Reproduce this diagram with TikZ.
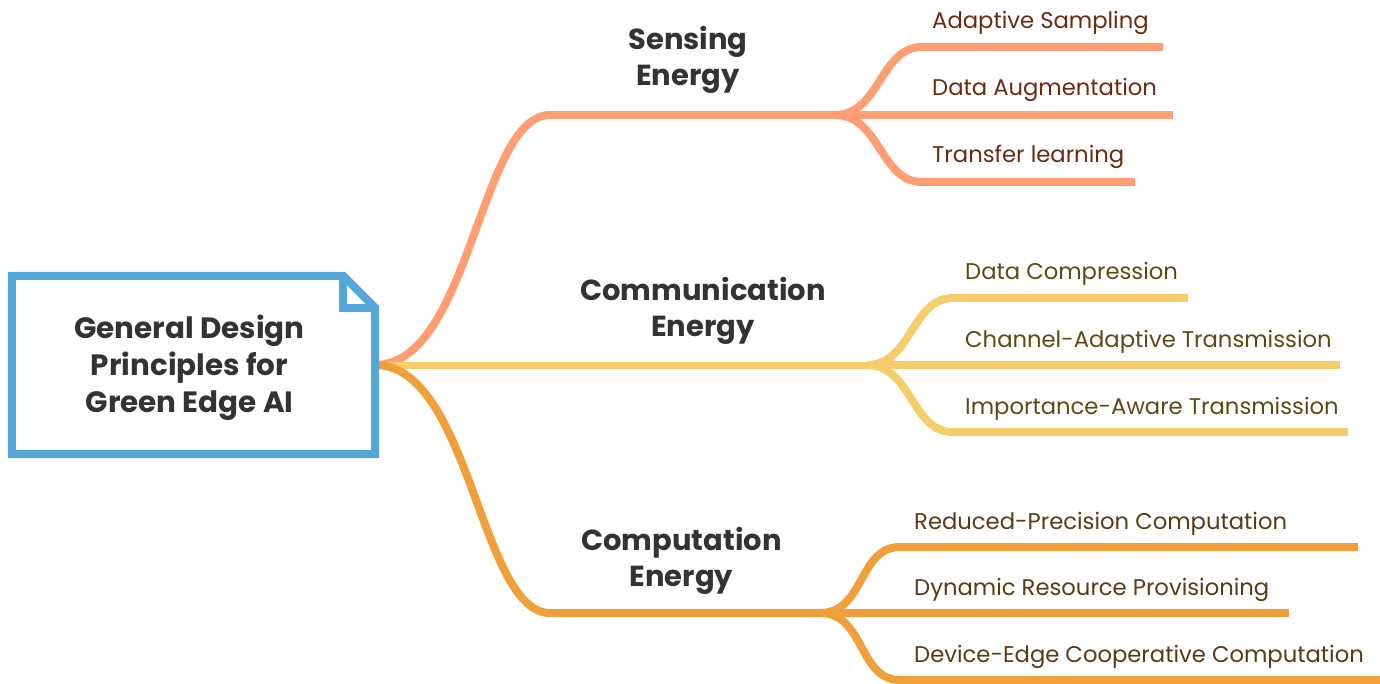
\documentclass[tikz,border=0pt]{standalone}
\usepackage{fontspec}
\setmainfont{Poppins}
\usetikzlibrary{positioning,calc}

\definecolor{rootblue}{HTML}{55A7D8}
\definecolor{senseline}{HTML}{FF9D73}
\definecolor{commline}{HTML}{F5CD6B}
\definecolor{compline}{HTML}{F0A03A}
\definecolor{sensetext}{HTML}{6B2A10}
\definecolor{commtext}{HTML}{604812}
\definecolor{comptext}{HTML}{5A3A14}
\definecolor{headtext}{HTML}{333333}

\tikzset{
    rootbox/.style={minimum width=363pt, minimum height=178pt, inner sep=0pt, align=center, text=headtext, font=\fontsize{29.4}{37}\selectfont\bfseries},
    topic/.style={align=center, inner sep=0pt, text=headtext, font=\fontsize{29}{36}\selectfont\bfseries},
    leaf/.style={anchor=base west, inner sep=0pt, font=\fontsize{22.7}{26}\selectfont},
    branch/.style={line width=8pt},
}

\begin{document}
\begin{tikzpicture}[x=1pt,y=-1pt]
        \useasboundingbox (0,0) rectangle (1380,684);

        % Root node
        \node[rootbox] (root) at (193.5,365) {};
        \node[rootbox,minimum width=0pt,minimum height=0pt] (rootlabel) at (189.5,367.5) {General Design\\Principles for\\Green Edge AI};

        % Branch points
        \coordinate (senseA) at (550,115);
        \coordinate (senseB) at (835,115);
        \coordinate (commB) at (867,365);
        \coordinate (compA) at (550,613);
        \coordinate (compB) at (820,613);

        % Leaf line ends
        \coordinate (sense1a) at (922,47);
        \coordinate (sense1b) at (1163,47);
        \coordinate (sense2b) at (1173,115);
        \coordinate (sense3a) at (922,182);
        \coordinate (sense3b) at (1135,182);

        \coordinate (comm1a) at (953,298);
        \coordinate (comm1b) at (1188,298);
        \coordinate (comm2b) at (1340,365);
        \coordinate (comm3a) at (953,432);
        \coordinate (comm3b) at (1348,432);

        \coordinate (comp1a) at (900,547);
        \coordinate (comp1b) at (1358,547);
        \coordinate (comp2b) at (1289,613);
        \coordinate (comp3a) at (900,680);
        \coordinate (comp3b) at (1380,680);

        % Sensing branch
        \draw[branch,senseline] (root.east) .. controls +(95,0) and +(-70,0) .. (senseA) -- (senseB);
        \draw[branch,senseline] (senseB) .. controls +(45,0) and +(-42,0) .. (sense1a) -- (sense1b);
        \draw[branch,senseline] (senseB) -- (sense2b);
        \draw[branch,senseline] (senseB) .. controls +(45,0) and +(-42,0) .. (sense3a) -- (sense3b);

        % Communication branch
        \draw[branch,commline,line width=7pt] (root.east) -- (commB);
        \draw[branch,commline] (commB) .. controls +(45,0) and +(-42,0) .. (comm1a) -- (comm1b);
        \draw[branch,commline] (commB) -- (comm2b);
        \draw[branch,commline] (commB) .. controls +(45,0) and +(-42,0) .. (comm3a) -- (comm3b);

        % Computation branch
        \draw[branch,compline] (root.east) .. controls +(95,0) and +(-70,0) .. (compA) -- (compB);
        \draw[branch,compline] (compB) .. controls +(45,0) and +(-42,0) .. (comp1a) -- (comp1b);
        \draw[branch,compline] (compB) -- (comp2b);
        \draw[branch,compline] (compB) .. controls +(45,0) and +(-42,0) .. (comp3a) -- (comp3b);

        % Root outline with folded corner
        \draw[line width=8pt,rootblue] (root.north west) -- ($(root.north east)+(-32,0)$) -- ($(root.north east)+(0,32)$) -- (root.south east) -- (root.south west) -- cycle;
        \draw[line width=8pt,rootblue] ($(root.north east)+(-32,0)$) -- ++(0,32) -- ($(root.north east)+(0,32)$);

        % Topics
        \node[topic] (sensing) at (688,59.5) {Sensing\\Energy};
        \node[topic] (communication) at (703,311) {Communication\\Energy};
        \node[topic] (computation) at (681.5,561) {Computation\\Energy};

        % Leaves
        \node[leaf,text=sensetext] (adaptive) at (932,29) {Adaptive Sampling};
        \node[leaf,text=sensetext] (augment) at (932,96) {Data Augmentation};
        \node[leaf,text=sensetext] (transfer) at (932,163) {Transfer learning};

        \node[leaf,text=commtext] (compress) at (965,280) {Data Compression};
        \node[leaf,text=commtext] (channel) at (965,347) {Channel-Adaptive Transmission};
        \node[leaf,text=commtext] (importance) at (965,414) {Importance-Aware Transmission};

        \node[leaf,text=comptext] (precision) at (914,529) {Reduced-Precision Computation};
        \node[leaf,text=comptext] (provision) at (914,595) {Dynamic Resource Provisioning};
        \node[leaf,text=comptext] (cooperative) at (914,662) {Device-Edge Cooperative Computation};
\end{tikzpicture}
\end{document}
